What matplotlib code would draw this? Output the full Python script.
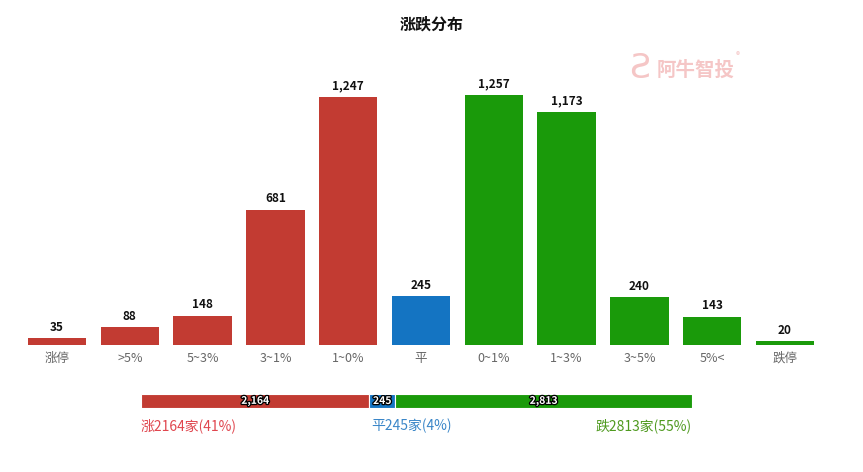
import matplotlib
matplotlib.use("Agg")
import matplotlib.pyplot as plt
import matplotlib.patheffects as pe

plt.rcParams['font.family'] = ['Noto Sans CJK SC', 'DejaVu Sans']

categories = ["涨停", ">5%", "5~3%", "3~1%", "1~0%", "平", "0~1%", "1~3%", "3~5%", "5%<", "跌停"]
values = [35, 88, 148, 681, 1247, 245, 1257, 1173, 240, 143, 20]
groups = ["red"] * 5 + ["blue"] + ["green"] * 5

summary_names = ["涨", "平", "跌"]
summary_values = [2164, 245, 2813]
summary_pct = [41, 4, 55]

bar_colors = {"red": "#c23b32", "blue": "#1474c2", "green": "#1a9a0a"}
text_colors = ["#e0464e", "#3a86c8", "#4f9a1f"]
seg_colors = [bar_colors["red"], bar_colors["blue"], bar_colors["green"]]

W, H = 863, 472
fig = plt.figure(figsize=(W / 100, H / 100), dpi=100)

# main axes
x0, x1 = 20.6, 821.4
ybase, ytop = 345, 86.4
ax = fig.add_axes([x0 / W, 1 - ybase / H, (x1 - x0) / W, (ybase - ytop) / H])
xs = range(len(categories))
ax.bar(xs, values, width=0.8, color=[bar_colors[g] for g in groups])
ax.set_xlim(-0.5, len(categories) - 0.5)
ax.set_ylim(0, 1300)
for x, v in zip(xs, values):
    ax.text(x, v + 22, f"{v:,}", ha="center", va="bottom", fontsize=8.5, fontweight="bold", color="#111")
ax.set_xticks(list(xs))
ax.set_xticklabels(categories, fontsize=9, color="#666")
ax.tick_params(axis="x", length=0, pad=5)
ax.set_yticks([])
for s in ax.spines.values():
    s.set_visible(False)

fig.text(0.5, 1 - 25 / H, "涨跌分布", ha="center", va="center", fontsize=11.5, fontweight="bold", color="#111")

# watermark
fig.text(657 / W, 1 - 70 / H, "阿牛智投", ha="left", va="center", fontsize=14, fontweight="bold", color="#f5c6c6")
fig.text(738 / W, 1 - 56 / H, "®", ha="center", va="center", fontsize=6, color="#f5c6c6")
fig.text(640 / W, 1 - 68 / H, "Ƨ", ha="center", va="center", fontsize=24, color="#f5c6c6")

# summary stacked bar
sx0, sx1 = 141, 692
sy0, sy1 = 394, 408
ax2 = fig.add_axes([sx0 / W, 1 - sy1 / H, (sx1 - sx0) / W, (sy1 - sy0) / H])
total = sum(summary_values)
left = 0
for v, c in zip(summary_values, seg_colors):
    ax2.barh(0, v, left=left, height=1, color=c, edgecolor="white", linewidth=0.8)
    ax2.text(left + v / 2, 0, f"{v:,}", ha="center", va="center", fontsize=7.5, fontweight="bold",
             color="white", path_effects=[pe.withStroke(linewidth=1.8, foreground="black")])
    left += v
ax2.set_xlim(0, total)
ax2.set_ylim(-0.5, 0.5)
ax2.axis("off")

ty = 1 - 426 / H
fig.text(sx0 / W, ty, f"{summary_names[0]}{summary_values[0]}家({summary_pct[0]}%)", ha="left", va="center",
         fontsize=10, color=text_colors[0])
mid_left = sx0 + (sx1 - sx0) * summary_values[0] / total
fig.text((mid_left + 2) / W, ty, f"{summary_names[1]}{summary_values[1]}家({summary_pct[1]}%)", ha="left", va="center",
         fontsize=10, color=text_colors[1])
fig.text(sx1 / W, ty, f"{summary_names[2]}{summary_values[2]}家({summary_pct[2]}%)", ha="right", va="center",
         fontsize=10, color=text_colors[2])

fig.savefig("out.png", dpi=100, facecolor="white")
